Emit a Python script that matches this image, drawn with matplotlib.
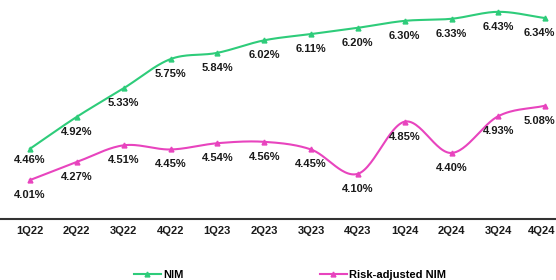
import numpy as np
import matplotlib
matplotlib.use("Agg")
import matplotlib.pyplot as plt
import matplotlib.transforms as mtransforms
from matplotlib.lines import Line2D

quarters = ["1Q22", "2Q22", "3Q22", "4Q22", "1Q23", "2Q23", "3Q23", "4Q23",
            "1Q24", "2Q24", "3Q24", "4Q24"]
nim = [4.46, 4.92, 5.33, 5.75, 5.84, 6.02, 6.11, 6.20, 6.30, 6.33, 6.43, 6.34]
risk_adj_nim = [4.01, 4.27, 4.51, 4.45, 4.54, 4.56, 4.45, 4.10, 4.85, 4.40, 4.93, 5.08]

GREEN = "#2ECC7A"
PINK = "#E844BE"

plt.rcParams["font.family"] = ["Liberation Sans", "DejaVu Sans"]


def smooth(x, y, n=30):
    x = np.asarray(x, float)
    y = np.asarray(y, float)
    px = np.concatenate([[2 * x[0] - x[1]], x, [2 * x[-1] - x[-2]]])
    py = np.concatenate([[2 * y[0] - y[1]], y, [2 * y[-1] - y[-2]]])
    xs, ys = [], []
    t = np.linspace(0, 1, n)
    for i in range(1, len(px) - 2):
        p0, p1, p2, p3 = py[i - 1], py[i], py[i + 1], py[i + 2]
        q0, q1, q2, q3 = px[i - 1], px[i], px[i + 1], px[i + 2]
        c1y = p1 + (p2 - p0) / 6
        c2y = p2 - (p3 - p1) / 6
        c1x = q1 + (q2 - q0) / 6
        c2x = q2 - (q3 - q1) / 6
        bx = (1 - t) ** 3 * q1 + 3 * (1 - t) ** 2 * t * c1x + 3 * (1 - t) * t ** 2 * c2x + t ** 3 * q2
        by = (1 - t) ** 3 * p1 + 3 * (1 - t) ** 2 * t * c1y + 3 * (1 - t) * t ** 2 * c2y + t ** 3 * p2
        xs.append(bx)
        ys.append(by)
    return np.concatenate(xs), np.concatenate(ys)


fig = plt.figure(figsize=(5.56, 2.80), dpi=100)
ax = fig.add_axes([0, 61 / 280, 1, 219 / 280])

x = np.arange(len(quarters))
n = len(quarters)
for vals, col in [(nim, GREEN), (risk_adj_nim, PINK)]:
    sx, sy = smooth(x, vals)
    ax.plot(sx, sy, color=col, lw=1.5, zorder=2)
    ax.plot(x, vals, linestyle="none", marker="^", ms=3.5, color=col, zorder=3)
    for i, (xi, v) in enumerate(zip(x, vals)):
        dy = -8 if (vals is nim and i == 0) else -10.8
        dx = -4 if i == n - 1 else 0
        ax.annotate(f"{v:.2f}%", (xi, v), xytext=(dx, dy), textcoords="offset points",
                    ha="center", va="center", fontsize=8, fontweight="bold", color="#1a1a1a",
                    annotation_clip=False)

ax.set_xlim(-0.64, 11.23)
ax.set_ylim(3.45, 6.60)
for s in ["top", "left", "right"]:
    ax.spines[s].set_visible(False)
ax.spines["bottom"].set_color("#333333")
ax.spines["bottom"].set_linewidth(1.5)
ax.set_yticks([])
ax.set_xticks(x)
ax.set_xticklabels(quarters, fontsize=8, fontweight="bold", color="#1a1a1a")
ax.tick_params(axis="x", length=0, pad=5)
last = ax.get_xticklabels()[-1]
last.set_transform(last.get_transform() +
                   mtransforms.ScaledTranslation(-2.5 / 72, 0, fig.dpi_scale_trans))

handles = [Line2D([], [], color=GREEN, lw=1.5, marker="^", ms=3.5),
           Line2D([], [], color=PINK, lw=1.5, marker="^", ms=3.5)]
fig.legend(handles, ["NIM", "Risk-adjusted NIM"], ncol=2, loc="center",
           bbox_to_anchor=(290 / 556, 1 - 275 / 280), frameon=False,
           prop={"size": 8, "weight": "bold"}, handlelength=2.4,
           handletextpad=0.2, columnspacing=12.3)

fig.savefig("out.png", dpi=100)
